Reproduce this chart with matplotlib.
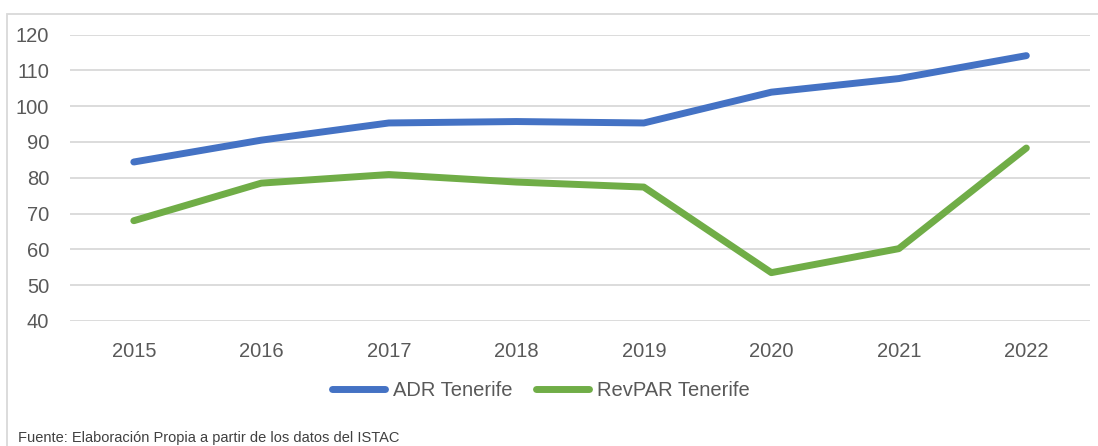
import matplotlib.pyplot as plt
from matplotlib.patches import Rectangle

years = ['2015', '2016', '2017', '2018', '2019', '2020', '2021', '2022']
adr = [84.4, 90.5, 95.3, 95.7, 95.3, 103.9, 107.7, 114.1]
revpar = [68.0, 78.5, 80.9, 78.8, 77.4, 53.5, 60.2, 88.3]

plt.rcParams['font.family'] = ['Liberation Sans', 'DejaVu Sans']

fig = plt.figure(figsize=(10.98, 4.46), dpi=100)
ax = fig.add_axes([0.0638, 0.2803, 0.929, 0.6423])

x = range(len(years))
ax.plot(x, adr, color='#4472C4', lw=5, solid_capstyle='round',
        solid_joinstyle='round', label='ADR Tenerife', zorder=3)
ax.plot(x, revpar, color='#70AD47', lw=5, solid_capstyle='round',
        solid_joinstyle='round', label='RevPAR Tenerife', zorder=3)

ax.set_xlim(-0.5, 7.5)
ax.set_ylim(40, 120)
ax.set_yticks(range(40, 121, 10))
ax.set_xticks(list(x))
ax.set_xticklabels(years)
ax.yaxis.grid(True, color='#d9d9d9', lw=1.3)
ax.set_axisbelow(True)
for s in ax.spines.values():
    s.set_visible(False)
ax.tick_params(length=0, labelsize=14.5, labelcolor='#595959')
ax.tick_params(axis='x', pad=15)
ax.tick_params(axis='y', pad=15)

leg = fig.legend(loc='center', bbox_to_anchor=(541 / 1098, 1 - 391 / 446), ncol=2,
                 frameon=False, fontsize=14.5, handlelength=2.6, handletextpad=0.4,
                 columnspacing=1.2)
for t in leg.get_texts():
    t.set_color('#595959')

fig.add_artist(Rectangle((7 / 1098, -0.1), 1.2, 1 - 14 / 446 + 0.1,
                         transform=fig.transFigure, fill=False,
                         edgecolor='#d9d9d9', lw=1.3))
fig.text(18 / 1098, 1 - 438 / 446, 'Fuente: Elaboración Propia a partir de los datos del ISTAC',
         fontsize=10.5, color='#404040', va='center', ha='left')

fig.savefig('out.png', dpi=100)
